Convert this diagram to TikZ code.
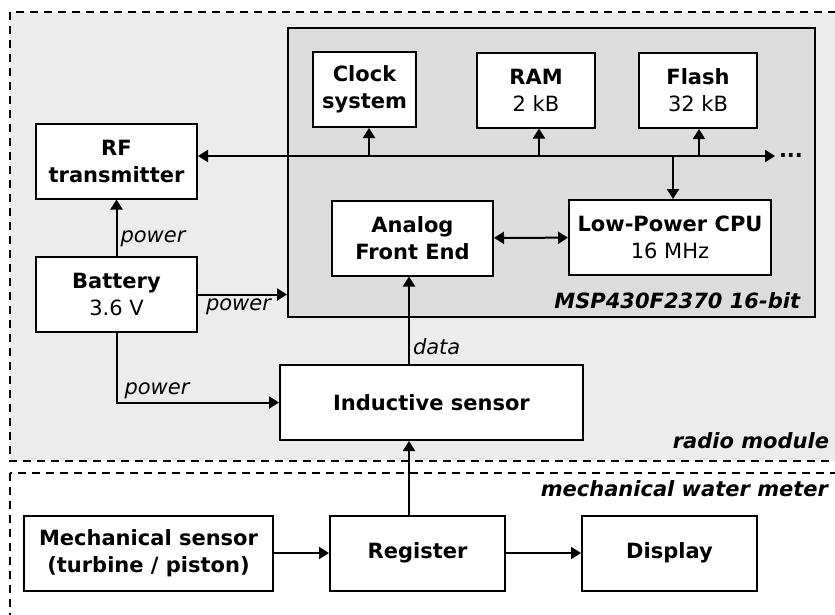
\documentclass[tikz,border=0pt]{standalone}
\usepackage{fontspec}
\setmainfont{DejaVu Sans}
\usetikzlibrary{arrows.meta}
\definecolor{radiogray}{HTML}{ECECEC}
\definecolor{mspgray}{HTML}{DCDCDC}
\newcommand{\figw}{835}
\newcommand{\figh}{614}
\newcommand{\boxh}{75pt}
\newcommand{\buslevel}{156}
\newcommand{\datacol}{409}

\begin{document}
\begin{tikzpicture}[x=1pt,y=-1pt,
    font=\fontsize{21}{27}\selectfont,
    line width=2pt,
    >={Triangle[length=10pt,width=12pt]},
    blk/.style={draw,fill=white,align=center,minimum height=\boxh,
      inner sep=3pt,font=\fontsize{21}{27}\selectfont\bfseries},
    lbl/.style={font=\fontsize{21}{27}\selectfont\itshape,inner sep=3pt},
    area/.style={font=\fontsize{21}{27}\selectfont\bfseries\itshape,inner sep=0pt},
    zone/.style={draw,dash pattern=on 8pt off 6pt}]
  \useasboundingbox (0,0) rectangle (\figw,\figh);
  % radio module
  \draw[zone,fill=radiogray] (10,12) rectangle (870,461);
  \node[area,anchor=base east] (radiolbl) at (830,448) {radio module};
  % mechanical water meter
  \draw[zone] (10,473) rectangle (870,650);
  \node[area,anchor=base east] (meterlbl) at (829,496) {mechanical water meter};
  % microcontroller
  \node[draw,fill=mspgray,minimum width=527pt,minimum height=289pt,
    inner sep=0pt] (msp) at (551.5,172.5) {};
  \node[area,anchor=base east] (msplbl) at (801,308) {MSP430F2370 16-bit};
  % blocks
  \node[blk,minimum width=161pt] (rf) at (116.5,161) {RF\\transmitter};
  \node[blk,minimum width=161pt] (bat) at (116.5,294.5) {Battery\\\mdseries 3.6 V};
  \node[blk,minimum width=103pt] (clk) at (364.5,89.5) {Clock\\system};
  \node[blk,minimum width=118pt] (ram) at (536,90) {RAM\\\mdseries 2 kB};
  \node[blk,minimum width=118pt] (flash) at (698,90.5) {Flash\\\mdseries 32 kB};
  \node[blk,minimum width=161pt] (afe) at (412.5,238) {Analog\\Front End};
  \node[blk,minimum width=202pt] (cpu) at (670,237.5) {Low-Power CPU\\\mdseries 16 MHz};
  \node[blk,minimum width=303pt] (ind) at (431.5,402.5) {Inductive sensor};
  \node[blk,minimum width=249pt] (mech) at (148.5,553) {Mechanical sensor\\(turbine / piston)};
  \node[blk,minimum width=175pt] (reg) at (417.5,553) {Register};
  \node[blk,minimum width=175pt] (disp) at (669.5,553) {Display};
  % bus
  \coordinate (busend) at (775,\buslevel);
  \draw[<->] (rf.east |- busend) -- (busend);
  \node[anchor=west,inner sep=3pt,font=\fontsize{21}{27}\selectfont\bfseries]
    (more) at (busend) {...};
  \foreach \blk/\col in {clk/369,ram/539,flash/699}{
    \coordinate (t\blk) at (\col,\buslevel);
    \draw[->] (t\blk) -- (t\blk |- \blk.south);
  }
  \coordinate (tcpu) at (673,\buslevel);
  \draw[->] (tcpu) -- (tcpu |- cpu.north);
  \draw[<->] (afe) -- (cpu);
  % power
  \draw[->] (bat) -- node[lbl,right,pos=0.3] {power} (rf);
  \draw[->] (bat.east) -- node[lbl,below,xshift=-4pt] {power} (bat.east -| msp.west);
  \draw[->] (bat.south) |- node[lbl,above right,pos=0.5,xshift=4pt] {power} (ind.west);
  % data path
  \coordinate (dcol) at (\datacol,0);
  \draw[->] (dcol |- ind.north) -- node[lbl,right,pos=0.2] {data} (dcol |- afe.south);
  \draw[->] (dcol |- reg.north) -- (dcol |- ind.south);
  \draw[->] (mech) -- (reg);
  \draw[->] (reg) -- (disp);
\end{tikzpicture}
\end{document}
